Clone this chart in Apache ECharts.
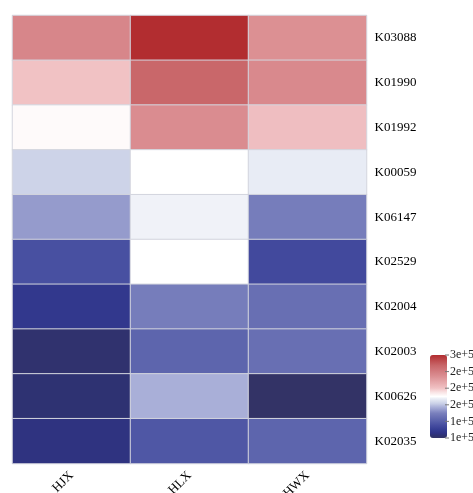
<!DOCTYPE html>
<html>
<head>
<meta charset="utf-8">
<script src="https://cdn.jsdelivr.net/npm/echarts@6/dist/echarts.min.js"></script>
<style>
  html, body { margin: 0; padding: 0; background: #ffffff; }
  #chart { width: 473px; height: 493px; }
</style>
</head>
<body>
<div id="chart"></div>
<script>
// ---- data ----
const samples = ['HJX', 'HLX', 'HWX'];
const genes = ['K03088', 'K01990', 'K01992', 'K00059', 'K06147', 'K02529', 'K02004', 'K02003', 'K00626', 'K02035'];
const HJX = [254000, 220000, 202000, 184000, 168000, 132000, 116000, 104000, 106000, 110000];
const HLX = [300000, 274000, 250000, 200000, 196000, 200000, 158000, 144000, 174000, 136000];
const HWX = [248000, 252000, 222000, 194000, 158000, 128000, 150000, 150000, 100000, 144000];
const legendTickLabels = ['1e+5', '1e+5', '2e+5', '2e+5', '2e+5', '3e+5'];
const valueMin = 100000;
const valueMax = 300000;

// ---- colour ramp ----
const stops = [
  [0.00, '#333366'], [0.03, '#2e3272'], [0.06, '#2f3387'], [0.10, '#353d93'],
  [0.15, '#454c9f'], [0.20, '#565ea9'], [0.25, '#686fb3'], [0.30, '#7a80bd'],
  [0.37, '#a9afd8'], [0.42, '#cdd3e8'], [0.47, '#e8ecf5'], [0.50, '#ffffff'],
  [0.55, '#f9e4e5'], [0.60, '#f1c2c4'], [0.75, '#da8c90'], [0.87, '#c9676a'],
  [1.00, '#b22d30']
];
function hex2rgb(h) { return [parseInt(h.slice(1,3),16), parseInt(h.slice(3,5),16), parseInt(h.slice(5,7),16)]; }
function rampColor(t) {
  for (let i = 1; i < stops.length; i++) {
    if (t <= stops[i][0]) {
      const a = stops[i-1], b = stops[i];
      const f = (t - a[0]) / (b[0] - a[0]);
      const ca = hex2rgb(a[1]), cb = hex2rgb(b[1]);
      const c = ca.map((v, k) => Math.round(v + (cb[k] - v) * f));
      return 'rgb(' + c.join(',') + ')';
    }
  }
  return stops[stops.length-1][1];
}
const rampColors = [];
for (let i = 0; i <= 100; i++) rampColors.push(rampColor(i / 100));

// ---- heatmap data ----
const columns = [HJX, HLX, HWX];
const heatData = [];
columns.forEach((col, xi) => {
  col.forEach((v, yi) => heatData.push([xi, yi, v]));
});

const serif = "'Liberation Serif', 'Times New Roman', 'DejaVu Serif', serif";

// legend layout
const barLeft = 430, barTop = 355, barW = 17, barH = 83;
const graphics = [];
legendTickLabels.forEach((lab, i) => {
  const y = barTop + barH - i * (barH / (legendTickLabels.length - 1));
  graphics.push({
    type: 'line', shape: { x1: barLeft + barW - 2, y1: y, x2: barLeft + barW + 2, y2: y },
    style: { stroke: '#777', lineWidth: 1 }, z: 100
  });
  graphics.push({
    type: 'text', x: barLeft + barW + 3, y: y,
    style: { text: lab, font: '12px ' + serif, fill: '#222', textVerticalAlign: 'middle', textAlign: 'left' },
    z: 100
  });
});

const chart = echarts.init(document.getElementById('chart'), null, { renderer: 'canvas' });
chart.setOption({
  animation: false,
  backgroundColor: '#ffffff',
  grid: { left: 12.5, right: 106.5, top: 15.5, bottom: 29.5, containLabel: false, outerBoundsMode: 'none' },
  xAxis: {
    type: 'category',
    data: samples,
    axisLine: { show: false },
    axisTick: { show: false },
    splitLine: { show: false },
    axisLabel: {
      rotate: 45, margin: 10, interval: 0,
      fontFamily: serif, fontSize: 13, color: '#000'
    }
  },
  yAxis: {
    type: 'category',
    data: genes,
    inverse: true,
    position: 'right',
    axisLine: { show: false },
    axisTick: { show: false },
    splitLine: { show: false },
    axisLabel: {
      margin: 8, interval: 0,
      fontFamily: serif, fontSize: 13, color: '#000'
    }
  },
  visualMap: {
    type: 'continuous',
    min: valueMin,
    max: valueMax,
    calculable: false,
    show: true,
    left: barLeft,
    top: barTop,
    padding: 0,
    itemWidth: barW,
    itemHeight: barH,
    text: null,
    showLabel: false,
    inRange: { color: rampColors }
  },
  graphic: graphics,
  series: [{
    type: 'heatmap',
    data: heatData,
    itemStyle: { borderColor: '#d3d5de', borderWidth: 1 },
    emphasis: { disabled: true }
  }]
});
</script>
</body>
</html>
